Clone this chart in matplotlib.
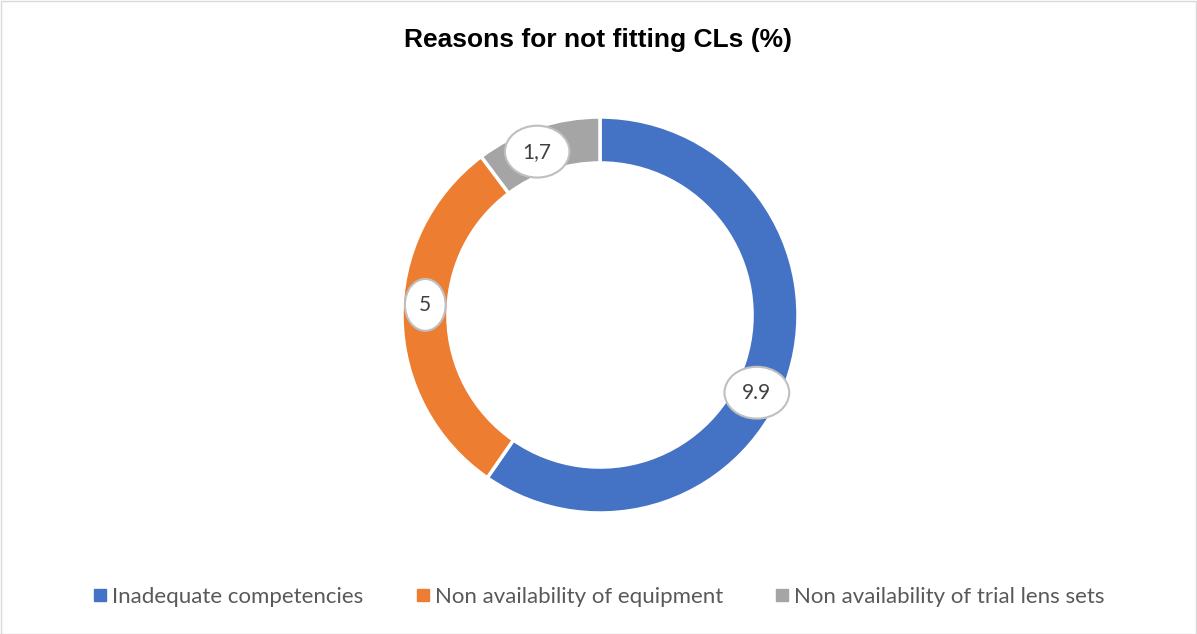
import numpy as np
import matplotlib.pyplot as plt
from matplotlib.patches import Rectangle
from matplotlib.lines import Line2D

categories = ["Inadequate competencies", "Non availability of equipment",
              "Non availability of trial lens sets"]
values = [9.9, 5, 1.7]
value_labels = ["9.9", "5", "1,7"]
colors = ["#4472C4", "#ED7D31", "#A5A5A5"]
label_nudge_deg = [-9.0, -4.4, 2.6]

W, H = 1197, 634
fig = plt.figure(figsize=(W / 100, H / 100), dpi=100)
fig.patch.set_facecolor("white")
fig.add_artist(Rectangle((0.5 / W, 0.5 / H), 1 - 1.5 / W, 1 - 1.5 / H,
                         transform=fig.transFigure, fill=False,
                         edgecolor="#D9D9D9", linewidth=1))

cx, cy, R = 600, 315, 198
ax = fig.add_axes([(cx - R) / W, 1 - (cy + R) / H, 2 * R / W, 2 * R / H])

width = 0.232
wedges, _ = ax.pie(values, colors=colors, startangle=90, counterclock=False,
                   radius=1, wedgeprops=dict(width=width, edgecolor="white",
                                             linewidth=2.5))
ax.set_xlim(-1, 1)
ax.set_ylim(-1, 1)
ax.set_aspect("equal")
ax.axis("off")

total = sum(values)
start = 90.0
rmid = 1 - width / 2
for v, lab, nudge in zip(values, value_labels, label_nudge_deg):
    sweep = v / total * 360
    mid = np.deg2rad(start - sweep / 2 + nudge)
    start -= sweep
    ax.text(rmid * np.cos(mid), rmid * np.sin(mid), lab, ha="center",
            va="center", fontsize=15, color="#404040", family="Lato",
            bbox=dict(boxstyle="ellipse,pad=0.4", facecolor="white",
                      edgecolor="#BFBFBF", linewidth=1.5))

fig.text(0.5, 1 - 40 / H, "Reasons for not fitting CLs (%)", ha="center",
         va="center", fontsize=19, fontweight="bold", family="Liberation Sans",
         color="black")

handles = [Line2D([], [], marker="s", linestyle="none", markersize=9,
                  markerfacecolor=c, markeredgecolor=c) for c in colors]
leg = fig.legend(handles, categories, loc="center", ncol=3,
                 bbox_to_anchor=(0.5, 1 - 597 / H), frameon=False,
                 prop=dict(family="Lato", size=16), handletextpad=0.2,
                 columnspacing=2.3, handlelength=0.7)
for t in leg.get_texts():
    t.set_color("#595959")

fig.savefig("out.png", dpi=100)
